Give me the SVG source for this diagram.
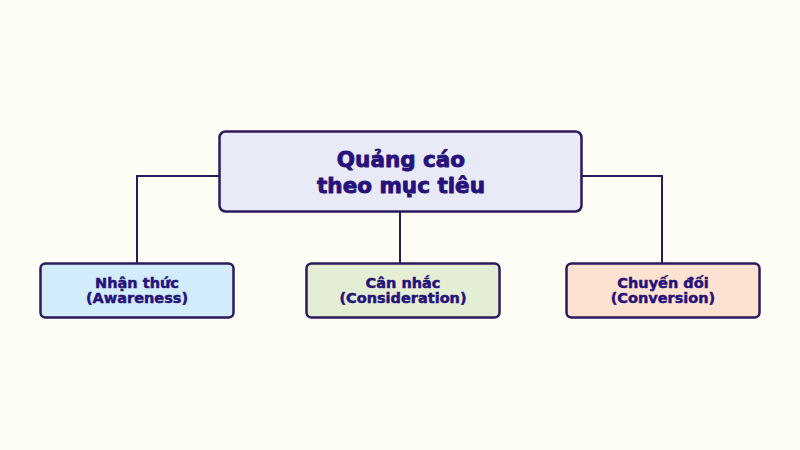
<svg xmlns="http://www.w3.org/2000/svg" width="800" height="450" viewBox="0 0 800 450">
  <style>
    .box { stroke: #2b1a5c; stroke-width: 2.5; }
    .conn { fill: none; stroke: #2b1a5c; stroke-width: 2; }
    .title { font-family: "DejaVu Sans", "Liberation Sans", sans-serif; font-weight: bold; font-size: 21.5px; fill: #26127a; stroke: #26127a; stroke-width: 0.9; stroke-linejoin: round; text-anchor: middle; }
    .label { font-family: "DejaVu Sans", "Liberation Sans", sans-serif; font-weight: bold; font-size: 14.5px; fill: #26127a; stroke: #26127a; stroke-width: 0.5; stroke-linejoin: round; text-anchor: middle; }
  </style>
  <rect width="800" height="450" fill="#fdfdf6"/>
  <g id="connectors">
    <polyline class="conn" points="219,176 137,176 137,263"/>
    <line class="conn" x1="400" y1="212" x2="400" y2="263"/>
    <polyline class="conn" points="582,176 662,176 662,263"/>
  </g>
  <g id="root">
    <rect class="box" x="219.5" y="131.5" width="362" height="80" rx="6" fill="#e8eaf8"/>
    <text class="title" x="401" y="167">Quảng cáo</text>
    <text class="title" x="401" y="193">theo mục tiêu</text>
  </g>
  <g id="awareness">
    <rect class="box" x="40.5" y="263.5" width="193" height="54" rx="5" fill="#d3ecfb"/>
    <text class="label" x="137" y="288">Nhận thức</text>
    <text class="label" x="137" y="303">(Awareness)</text>
  </g>
  <g id="consideration">
    <rect class="box" x="306.5" y="263.5" width="193" height="54" rx="5" fill="#e4eed4"/>
    <text class="label" x="403" y="288">Cân nhắc</text>
    <text class="label" x="403" y="303">(Consideration)</text>
  </g>
  <g id="conversion">
    <rect class="box" x="566.5" y="263.5" width="193" height="54" rx="5" fill="#fde2d1"/>
    <text class="label" x="663" y="288">Chuyến đối</text>
    <text class="label" x="663" y="303">(Conversion)</text>
  </g>
</svg>
